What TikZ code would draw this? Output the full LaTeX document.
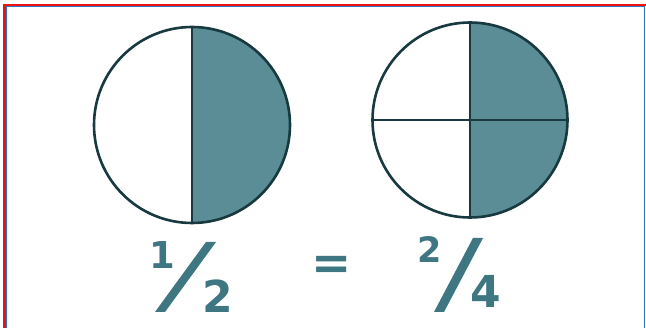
\documentclass[tikz,border=0pt]{standalone}
\usepackage{fontspec}
\setmainfont{Liberation Sans}
\newfontfamily\digitfont{DejaVu Sans}
\definecolor{fillteal}{HTML}{5B8D97}
\definecolor{edgeteal}{HTML}{17393F}
\definecolor{textteal}{HTML}{3E7682}
\definecolor{framered}{HTML}{F01010}
\definecolor{frameblue}{HTML}{2A7BC8}
\begin{document}
\begin{tikzpicture}[x=1pt,y=-1pt,
  pie/.style={circle,draw=edgeteal,line width=2.6pt,inner sep=0pt,outer sep=0pt,minimum size=#1},
  divider/.style={draw=edgeteal,line width=1.6pt},
  digit/.style={text=textteal,inner sep=0pt,font=\digitfont\fontsize{#1}{#1}\selectfont\bfseries},
  slashshape/.style={fill=textteal,draw=none}]
\useasboundingbox (0,0) rectangle (646,328);
\fill[white] (0,0) rectangle (646,328);
% frame
\draw[framered,line width=2.6pt] (4.5,328) -- (4.5,5) -- (646,5);
\draw[frameblue,line width=1pt] (6.8,328) -- (6.8,6.8) -- (644.5,6.8) -- (644.5,328);
% first circle: one half
\fill[fillteal] (192,125) ++(0,-98) arc[start angle=-90,end angle=90,radius=98] -- cycle;
\node[pie=196pt] (pieA) at (192,125) {};
\draw[divider] (pieA.north) -- (pieA.south);
% second circle: two quarters
\fill[fillteal] (470,120) ++(0,-97.5) arc[start angle=-90,end angle=90,radius=97.5] -- cycle;
\node[pie=195pt] (pieB) at (470,120) {};
\draw[divider] (pieB.north) -- (pieB.south);
\draw[divider] (pieB.west) -- (pieB.east);
% fractions
\node[digit=37pt] (numA) at (162.5,255) {1};
\node[digit=44pt] (denA) at (217.5,296) {2};
\fill[slashshape] (155,312) -- (165,312) -- (216,242) -- (206,242) -- cycle;
\node[digit=48pt] (eq) at (332,267.5) {=};
\node[digit=35pt] (numB) at (430,249.5) {2};
\node[digit=44pt] (denB) at (486,291) {4};
\fill[slashshape] (434,312) -- (444,312) -- (483,238) -- (473,238) -- cycle;
\end{tikzpicture}
\end{document}
